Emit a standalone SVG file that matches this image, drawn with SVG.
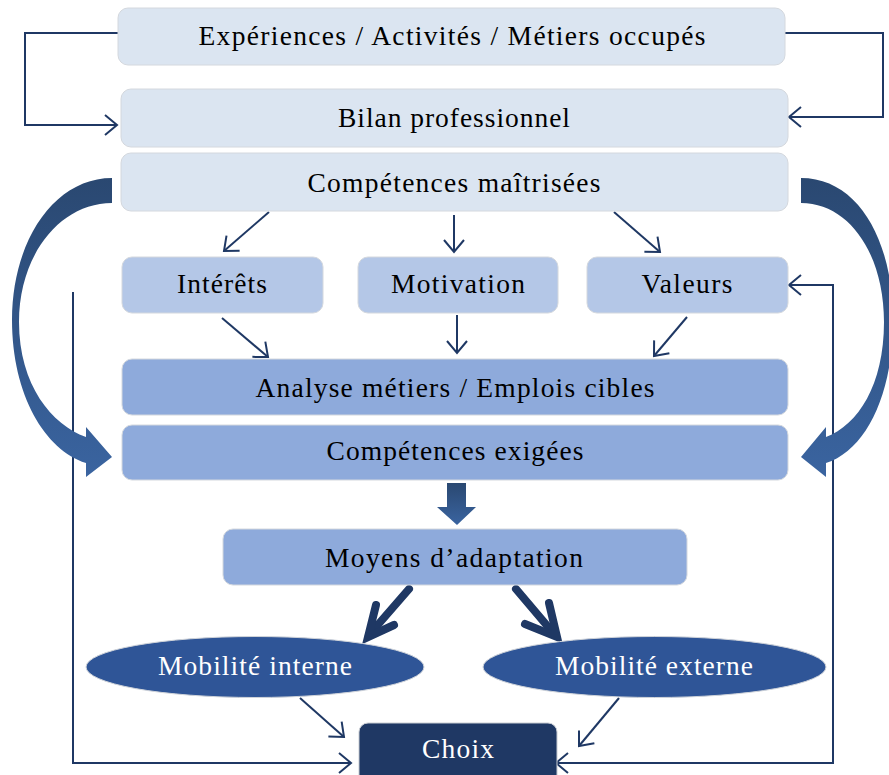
<svg xmlns="http://www.w3.org/2000/svg" width="889" height="775" viewBox="0 0 889 775">
<style>
text{font-family:"Liberation Serif","Times New Roman",serif;font-size:27.5px;text-anchor:middle;fill:#000}
.l1{fill:#DBE5F1;stroke:#D4D8DE;stroke-width:1}
.l2{fill:#B4C7E7;stroke:#D4D8DE;stroke-width:1}
.l3{fill:#8EAADB;stroke:#D4D8DE;stroke-width:1}
.el{fill:#2F5597;stroke:#D0D4DA;stroke-width:1}
.dk{fill:#1F3864;stroke:#C8CCD2;stroke-width:1}
.w{fill:#fff}
.c{fill:none;stroke:#1F3864;stroke-width:2}
.thick{fill:none;stroke:#1F3864;stroke-width:8;stroke-linecap:round}
</style>
<defs>
<marker id="ah" markerUnits="userSpaceOnUse" markerWidth="30" markerHeight="30" viewBox="-15 -15 30 30" refX="0" refY="0" orient="auto-start-reverse">
<path d="M-12,-10 L0,0 L-12,10" fill="none" stroke="#1F3864" stroke-width="2"/>
</marker>
<linearGradient id="g" x1="0" y1="0" x2="0" y2="1">
<stop offset="0" stop-color="#2A4871"/>
<stop offset="1" stop-color="#3A64A0"/>
</linearGradient>
</defs>

<g id="connectors">
<path class="c" d="M118,33 H25 V125 H117" marker-end="url(#ah)"/>
<path class="c" d="M785,33 H883 V117 H789" marker-end="url(#ah)"/>
<path class="c" d="M269,212 L224,251" marker-end="url(#ah)"/>
<path class="c" d="M454,215 L454,252" marker-end="url(#ah)"/>
<path class="c" d="M614,212 L660,252" marker-end="url(#ah)"/>
<path class="c" d="M222,318 L268,357" marker-end="url(#ah)"/>
<path class="c" d="M457,315 L457,353" marker-end="url(#ah)"/>
<path class="c" d="M687,317 L654,356" marker-end="url(#ah)"/>
<path class="c" d="M73,292 V763 H351" marker-end="url(#ah)"/>
<path class="c" d="M556,763 H833 V285 H789" marker-start="url(#ah)" marker-end="url(#ah)"/>
<path class="c" d="M300,698 L344,737" marker-end="url(#ah)"/>
<path class="c" d="M619,698 L579,746" marker-end="url(#ah)"/>
<path d="M112,178 C55,178 12,240 12,320 C12,395 45,450 86,463 L86,477 L112,457 L86,427 L86,437 C52,425 19,385 19,322 C19,255 60,203 112,203 Z" fill="url(#g)"/>
<path d="M801,178 C858,178 893,240 893,320 C893,395 866,450 826,463 L826,477 L801,457 L826,427 L826,437 C858,425 884,385 884,322 C884,255 850,203 801,203 Z" fill="url(#g)"/>
<path d="M447,483 H466 V507 H476 L457,525 L437,507 H447 Z" fill="url(#g)"/>
<path class="thick" d="M409,589 L369,635"/>
<path class="thick" d="M376,605 L368,637 L394,625" stroke-linejoin="miter"/>
<path class="thick" d="M516,589 L555,635"/>
<path class="thick" d="M549,603 L557,637 L525,624" stroke-linejoin="miter"/>
</g>

<g id="n1"><rect class="l1" x="118" y="8" width="667" height="57" rx="10"/><text x="452" y="45" textLength="507" lengthAdjust="spacing">Expériences / Activités / Métiers occupés</text></g>
<g id="n2"><rect class="l1" x="121" y="89" width="667" height="58" rx="10"/><text x="454" y="127" textLength="232" lengthAdjust="spacing">Bilan professionnel</text></g>
<g id="n3"><rect class="l1" x="121" y="153" width="667" height="58" rx="10"/><text x="454" y="192" textLength="293" lengthAdjust="spacing">Compétences maîtrisées</text></g>
<g id="n4"><rect class="l2" x="122" y="257" width="201" height="56" rx="10"/><text x="222" y="293" textLength="90" lengthAdjust="spacing">Intérêts</text></g>
<g id="n5"><rect class="l2" x="358" y="257" width="200" height="56" rx="10"/><text x="458" y="293" textLength="134" lengthAdjust="spacing">Motivation</text></g>
<g id="n6"><rect class="l2" x="587" y="257" width="201" height="56" rx="10"/><text x="687" y="293" textLength="91" lengthAdjust="spacing">Valeurs</text></g>
<g id="n7"><rect class="l3" x="122" y="359" width="666" height="56" rx="10"/><text x="455" y="397" textLength="399" lengthAdjust="spacing">Analyse métiers / Emplois cibles</text></g>
<g id="n8"><rect class="l3" x="122" y="425" width="666" height="55" rx="10"/><text x="455" y="460" textLength="257" lengthAdjust="spacing">Compétences exigées</text></g>
<g id="n9"><rect class="l3" x="223" y="529" width="464" height="56" rx="10"/><text x="454" y="567" textLength="258" lengthAdjust="spacing">Moyens d’adaptation</text></g>
<g id="n10"><ellipse class="el" cx="255" cy="667" rx="169" ry="30.5"/><text class="w" x="255" y="675" textLength="194" lengthAdjust="spacing">Mobilité interne</text></g>
<g id="n11"><ellipse class="el" cx="654.5" cy="667" rx="171.5" ry="30.5"/><text class="w" x="654" y="675" textLength="198" lengthAdjust="spacing">Mobilité externe</text></g>
<g id="n12"><rect class="dk" x="359" y="723" width="198" height="62" rx="9"/><text class="w" x="458" y="758" textLength="72" lengthAdjust="spacing">Choix</text></g>
</svg>
